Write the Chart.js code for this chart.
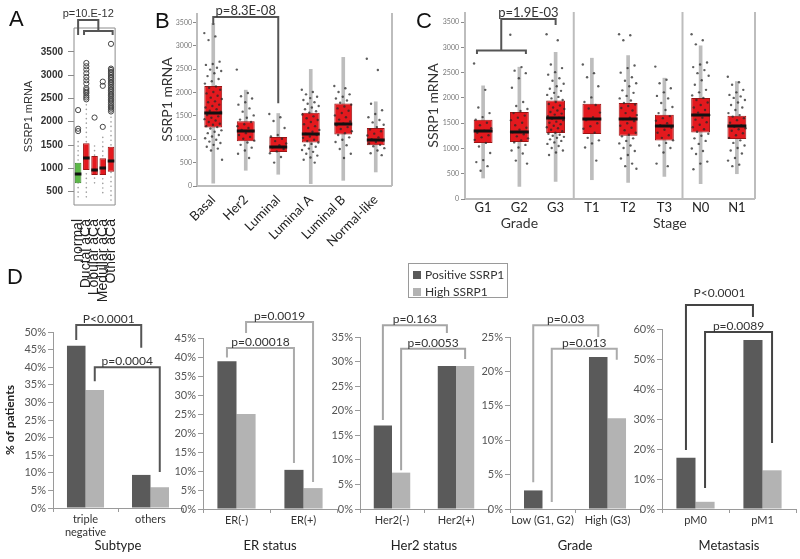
<!DOCTYPE html>
<html lang="en">
<head>
<meta charset="UTF-8">
<title>SSRP1 mRNA expression and SSRP1-positive patients</title>
<style>
  body { margin: 0; background: #fff; }
  #fig { position: relative; width: 800px; height: 559px; overflow: hidden; font-family: Arial, "Liberation Sans", sans-serif; }
  #fig canvas { position: absolute; }
  .tag { position: absolute; font-size: 22px; color: #111; line-height: 1; }
  #legend { position: absolute; left: 408px; top: 263px; width: 98px; height: 33px; border: 1.5px solid #9a9a9a; font: 12px Lato, sans-serif; color: #333; }
  #legend div { position: absolute; left: 4px; white-space: nowrap; }
  #legend span { display: inline-block; width: 8px; height: 8px; margin-right: 4px; vertical-align: 0; }
</style>
</head>
<body>
<div id="fig">
  <canvas id="chartA" width="135" height="310" style="left:0;top:0"></canvas>
  <canvas id="chartB" width="250" height="290" style="left:150px;top:0"></canvas>
  <canvas id="chartC" width="400" height="240" style="left:400px;top:0"></canvas>
  <canvas id="chartD1" width="190" height="279" style="left:0;top:280px"></canvas>
  <canvas id="chartD2" width="185" height="279" style="left:160px;top:280px"></canvas>
  <canvas id="chartD3" width="175" height="279" style="left:320px;top:280px"></canvas>
  <canvas id="chartD4" width="175" height="279" style="left:470px;top:280px"></canvas>
  <canvas id="chartD5" width="180" height="279" style="left:620px;top:280px"></canvas>
  <div class="tag" style="left:9px;top:8px">A</div>
  <div class="tag" style="left:155px;top:10px">B</div>
  <div class="tag" style="left:416px;top:10px">C</div>
  <div class="tag" style="left:7px;top:266px">D</div>
  <div id="legend"></div>
</div>

<script src="https://cdn.jsdelivr.net/npm/chart.js"></script>
<script>
// ---- A: histological type ----
const histTypes = ['normal', 'Ductal aCa', 'Lobular aCa', 'Medullar aCa', 'Other aCa'];
const histLow = [390, 390, 690, 480, 320];
const histQ1 = [680, 965, 858, 858, 929];
const histMed = [879, 1216, 965, 1001, 1164];
const histQ3 = [1121, 1537, 1265, 1216, 1464];
const histHigh = [1640, 2380, 1500, 1700, 2180];
const histOutliers = [
  [2250, 1850, 1800],
  [3260, 3190, 3120, 3040, 2960, 2890, 2820, 2720, 2680, 2640, 2610, 2560, 2520, 2480],
  [2090],
  [2860, 2770, 1890],
  [3670, 3140, 3110, 3070, 3040, 3000, 2960, 2930, 2890, 2850, 2820, 2780, 2740, 2700, 2670,
   2630, 2590, 2560, 2520, 2480, 2450, 2410, 2370, 2330, 2300, 2260, 2220]
];
const ticksA = [500, 1000, 1500, 2000, 2500, 3000, 3500];

// ---- B: molecular subtype ----
const subtypes = ['Basal', 'Her2', 'Luminal', 'Luminal A', 'Luminal B', 'Normal-like'];
const subLow = [60, 336, 251, 50, 121, 300];
const subQ1 = [1251, 958, 729, 929, 1100, 872];
const subMed = [1565, 1179, 836, 1122, 1336, 979];
const subQ3 = [2137, 1386, 1050, 1565, 1765, 1243];
const subHigh = [3480, 2050, 1551, 2494, 2751, 1801];
const subPoints = [
  [3270, 3200, 3120, 2660, 2610, 2590, 2530, 2490, 2460, 2410, 2350, 2290, 2240, 2190, 2130, 2100, 2060, 2010,
   1980, 1930, 1890, 1860, 1810, 1790, 1740, 1710, 1680, 1640, 1610, 1590, 1560, 1520, 1490, 1460, 1430, 1400,
   1370, 1330, 1310, 1280, 1260, 1230, 1190, 1160, 1130, 1090, 1060, 1020, 990, 950, 920, 880, 840, 800, 760, 560],
  [2490, 1990, 1920, 1870, 1790, 1740, 1660, 1590, 1510, 1460, 1420, 1370, 1320, 1280, 1240, 1200, 1170, 1130,
   1090, 1050, 1010, 970, 930, 880, 820, 760, 690, 600],
  [1540, 1470, 1390, 1240, 1090, 1060, 1010, 960, 910, 870, 830, 790, 740, 700, 620, 500],
  [2060, 2010, 1960, 1910, 1880, 1840, 1790, 1760, 1710, 1680, 1640, 1600, 1570, 1530, 1490, 1450, 1410, 1370,
   1320, 1280, 1240, 1200, 1160, 1120, 1090, 1060, 1030, 990, 960, 930, 900, 870, 840, 800, 770, 730, 690, 650, 610, 560, 500],
  [2140, 2090, 2010, 1960, 1910, 1870, 1830, 1780, 1740, 1700, 1660, 1610, 1560, 1510, 1470, 1420, 1380, 1340,
   1300, 1260, 1220, 1170, 1130, 1090, 1040, 990, 940, 870, 790, 690, 600],
  [2720, 2480, 1760, 1620, 1540, 1470, 1410, 1360, 1310, 1260, 1210, 1170, 1120, 1080, 1040, 1000, 970, 940,
   910, 880, 850, 810, 760, 700, 660]
];

// ---- C: grade and stage ----
const clinGroups = ['G1', 'G2', 'G3', 'T1', 'T2', 'T3', 'N0', 'N1'];
const clinLow = [415, 249, 348, 381, 328, 447, 302, 500];
const clinQ1 = [1107, 1126, 1304, 1284, 1251, 1158, 1316, 1186];
const clinMed = [1336, 1324, 1600, 1581, 1587, 1448, 1666, 1435];
const clinQ3 = [1567, 1719, 1949, 1883, 1897, 1666, 1996, 1646];
const clinHigh = [2239, 2608, 2900, 2786, 2838, 2391, 3029, 2324];
const clinPoints = [
  [2680, 2160, 1810, 1700, 1620, 1570, 1510, 1460, 1400, 1350, 1310, 1260, 1220, 1170, 1110, 1040, 910, 770, 730, 650, 560],
  [3250, 2610, 2540, 2490, 2390, 2200, 1920, 1840, 1780, 1740, 1700, 1650, 1610, 1560, 1510, 1460, 1410, 1370,
   1320, 1280, 1240, 1200, 1160, 1120, 1070, 1020, 960, 900, 760, 700],
  [3260, 3140, 2660, 2590, 2510, 2460, 2390, 2340, 2280, 2230, 2180, 2140, 2100, 2060, 2020, 1990, 1960, 1920,
   1880, 1850, 1810, 1780, 1750, 1720, 1690, 1670, 1640, 1610, 1590, 1560, 1530, 1510, 1480, 1450, 1420, 1400,
   1370, 1340, 1310, 1290, 1270, 1250, 1230, 1210, 1180, 1150, 1120, 1090, 1050, 1010, 960, 920, 870],
  [2660, 2490, 2410, 2230, 2010, 1920, 1860, 1790, 1710, 1620, 1560, 1500, 1440, 1390, 1310, 1210, 1160, 1100, 1020, 760],
  [3260, 3240, 3140, 2640, 2590, 2500, 2410, 2340, 2290, 2230, 2150, 2100, 2040, 1990, 1950, 1900, 1870, 1840,
   1800, 1750, 1700, 1660, 1610, 1580, 1540, 1500, 1450, 1410, 1360, 1310, 1270, 1240, 1200, 1150, 1100, 1060,
   1010, 950, 870, 800, 700, 650, 600],
  [2620, 2360, 2290, 2190, 2110, 2040, 1990, 1900, 1820, 1760, 1700, 1640, 1600, 1550, 1500, 1460, 1410, 1370,
   1310, 1260, 1210, 1160, 1110, 1060, 1010, 920, 700, 650],
  [3260, 3140, 3060, 2700, 2660, 2610, 2550, 2490, 2440, 2350, 2260, 2160, 2110, 2050, 2000, 1960, 1910, 1860,
   1810, 1760, 1710, 1660, 1610, 1570, 1520, 1470, 1420, 1380, 1330, 1290, 1250, 1200, 1150, 1090, 1000, 950, 890, 740, 700, 590],
  [2420, 2310, 2260, 2160, 2110, 2060, 2030, 2000, 1960, 1910, 1860, 1810, 1760, 1700, 1660, 1630, 1600, 1560,
   1510, 1460, 1430, 1400, 1380, 1350, 1300, 1260, 1210, 1160, 1110, 1060, 1010, 960, 900, 810, 760, 680, 650]
];
const ticksBC = [0, 500, 1000, 1500, 2000, 2500, 3000, 3500];

// ---- D: % of patients ----
const seriesNames = ['Positive SSRP1', 'High SSRP1'];
const subtypeCats = [['triple', 'negative'], 'others'];
const subtypePos = [46.1, 9.4];
const subtypeHigh = [33.5, 5.9];
const erCats = ['ER(-)', 'ER(+)'];
const erPos = [38.9, 10.3];
const erHigh = [25.0, 5.5];
const her2Cats = ['Her2(-)', 'Her2(+)'];
const her2Pos = [17.0, 29.1];
const her2High = [7.4, 29.1];
const gradeCats = ['Low (G1, G2)', 'High (G3)'];
const gradePos = [2.7, 22.1];
const gradeHigh = [0, 13.2];
const metaCats = ['pM0', 'pM1'];
const metaPos = [17.1, 56.3];
const metaHigh = [2.4, 12.9];

const DARK = '#5a5a5a', LIGHT = '#b3b3b3';
const RED = '#e3191e', RED_EDGE = '#9c1515';

Chart.defaults.font.family = 'Lato, "Open Sans", sans-serif';
Chart.defaults.color = '#444';
Chart.defaults.animation = false;
Chart.defaults.plugins.legend.display = false;
Chart.defaults.plugins.tooltip.enabled = false;

// spreads points sideways by a fixed golden-ratio pattern
const jitter = (i, w) => (((i * 0.6180339887) % 1) - 0.5) * w;

function medianPlugin(med) {
  return {
    id: 'medians',
    afterDatasetsDraw(chart) {
      const idx = chart.data.datasets.findIndex(d => d.label === 'box');
      const ys = chart.scales.y, ctx = chart.ctx;
      ctx.save();
      ctx.strokeStyle = '#111';
      ctx.lineWidth = 3;
      chart.getDatasetMeta(idx).data.forEach((bar, i) => {
        const py = Math.round(ys.getPixelForValue(med[i]));
        ctx.beginPath();
        ctx.moveTo(bar.x - bar.width / 2, py);
        ctx.lineTo(bar.x + bar.width / 2, py);
        ctx.stroke();
      });
      ctx.restore();
    }
  };
}

function dottedWhiskers(low, high) {
  return {
    id: 'dotted',
    beforeDatasetsDraw(chart) {
      const xs = chart.scales.x, ys = chart.scales.y, ctx = chart.ctx;
      ctx.save();
      ctx.strokeStyle = '#a0a0a0';
      ctx.lineWidth = 1.6;
      ctx.lineCap = 'round';
      ctx.setLineDash([0.1, 4.5]);
      low.forEach((lo, i) => {
        const x = xs.getPixelForValue(i);
        ctx.beginPath();
        ctx.moveTo(x, ys.getPixelForValue(lo));
        ctx.lineTo(x, ys.getPixelForValue(high[i]));
        ctx.stroke();
      });
      ctx.restore();
    }
  };
}

function framePlugin(sides, color, width, seps) {
  return {
    id: 'frame',
    beforeDatasetsDraw(chart) {
      const {left, right, top, bottom} = chart.chartArea, ctx = chart.ctx;
      ctx.save();
      ctx.strokeStyle = color;
      ctx.lineWidth = width;
      const line = (x1, y1, x2, y2) => { ctx.beginPath(); ctx.moveTo(x1, y1); ctx.lineTo(x2, y2); ctx.stroke(); };
      if (sides.includes('left')) line(left, top, left, bottom);
      if (sides.includes('right')) line(right, top, right, bottom);
      if (sides.includes('top')) line(left, top, right, top);
      if (sides.includes('bottom')) line(left, bottom, right, bottom);
      (seps || []).forEach(v => { const x = chart.scales.x.getPixelForValue(v); line(x, top, x, bottom); });
      ctx.restore();
    }
  };
}

function bracketPlugin(items, color, font) {
  return {
    id: 'brackets',
    afterDraw(chart) {
      const ctx = chart.ctx, ys = chart.scales.y;
      const xOf = v => Array.isArray(v) ? chart.getDatasetMeta(v[1]).data[v[0]].x : chart.scales.x.getPixelForValue(v);
      ctx.save();
      ctx.strokeStyle = color;
      ctx.lineWidth = 2;
      items.forEach(it => {
        const pts = it.pts.map(([x, y]) => [xOf(x), ys.getPixelForValue(y)]);
        ctx.beginPath();
        pts.forEach(([x, y], k) => k ? ctx.lineTo(x, y) : ctx.moveTo(x, y));
        ctx.stroke();
        if (it.text) {
          ctx.fillStyle = '#333';
          ctx.font = font;
          ctx.textAlign = 'center';
          ctx.textBaseline = 'middle';
          ctx.fillText(it.text, (pts[1][0] + pts[2][0]) / 2, pts[1][1] - it.dy);
        }
      });
      ctx.restore();
    }
  };
}

function groupLabels(labels) {
  return {
    id: 'groups',
    afterDraw(chart) {
      const ctx = chart.ctx;
      ctx.save();
      ctx.fillStyle = '#333';
      ctx.font = '14px Lato';
      ctx.textAlign = 'center';
      ctx.textBaseline = 'middle';
      labels.forEach(g => ctx.fillText(g.text, chart.scales.x.getPixelForValue(g.at), chart.chartArea.bottom + 24));
      ctx.restore();
    }
  };
}

function boxPanel(id, g) {
  const n = g.labels.length;
  const datasets = [];
  if (g.whiskers) {
    datasets.push({ label: 'whisker', data: g.low.map((v, i) => ({x: i, y: [v, g.high[i]]})), backgroundColor: '#bdbdbd',
      barThickness: 3, grouped: false, order: 4 });
  }
  datasets.push({ label: 'box', data: g.q1.map((v, i) => ({x: i, y: [v, g.q3[i]]})), backgroundColor: g.fills,
    borderColor: g.edges, borderWidth: 1, borderSkipped: false, grouped: false,
    barPercentage: g.boxPct, categoryPercentage: 1, order: 3 });
  if (g.points) {
    datasets.push({ type: 'scatter', label: 'points', order: 2,
      data: g.points.flatMap((arr, c) => arr.map((v, i) => ({x: c + jitter(i, g.spread), y: v}))),
      pointRadius: 1.2, pointBackgroundColor: 'rgba(40,40,40,0.75)', pointBorderWidth: 0 });
  }
  if (g.outliers) {
    datasets.push({ type: 'scatter', label: 'outliers', order: 1,
      data: g.outliers.flatMap((arr, c) => arr.map(v => ({x: c, y: v}))),
      pointRadius: 2.6, pointBackgroundColor: 'rgba(0,0,0,0)', pointBorderColor: '#444', pointBorderWidth: 1 });
  }
  const plugins = [framePlugin(g.frame, g.frameColor, g.frameWidth, g.seps), medianPlugin(g.med),
    bracketPlugin(g.brackets, '#555', g.pFont)];
  if (!g.whiskers) plugins.unshift(dottedWhiskers(g.low, g.high));
  if (g.groups) plugins.push(groupLabels(g.groups));
  return new Chart(document.getElementById(id), {
    type: 'bar',
    data: { datasets },
    options: {
      responsive: false,
      layout: { padding: { left: 0, top: g.padTop, right: g.padRight, bottom: 0 } },
      scales: {
        x: {
          type: 'linear', offset: false, min: -0.5, max: n - 0.5,
          afterBuildTicks: s => { s.ticks = g.labels.map((_, i) => ({value: i})); },
          grid: { display: false, offset: false },
          border: { display: false },
          ticks: { autoSkip: false, minRotation: g.rot, maxRotation: g.rot, padding: g.xPad, color: '#222', font: g.xFont,
            callback: v => g.labels[v] },
          afterFit: s => { s.height = g.xHeight; }
        },
        y: {
          min: g.yMin, max: g.yMax,
          afterBuildTicks: s => { s.ticks = g.ticks.map(v => ({value: v})); },
          grid: { drawOnChartArea: false, tickLength: g.tickLen, color: '#8a8a8a', lineWidth: 1 },
          border: { display: false },
          ticks: { padding: g.yPad, color: g.yColor, font: g.yFont, callback: v => String(v) },
          title: { display: true, text: 'SSRP1 mRNA', color: '#333', font: g.titleFont, padding: { top: g.titlePad, bottom: 0 } },
          afterFit: s => { s.width = g.yWidth; }
        }
      }
    },
    plugins
  });
}

boxPanel('chartA', {
  labels: histTypes, low: histLow, q1: histQ1, med: histMed, q3: histQ3, high: histHigh,
  outliers: histOutliers, whiskers: false,
  fills: ['#5cb947', RED, RED, RED, RED], edges: ['#3c8a2c', RED_EDGE, RED_EDGE, RED_EDGE, RED_EDGE],
  boxPct: 0.8, yMin: 215, yMax: 4010, ticks: ticksA,
  padTop: 28, padRight: 12, xHeight: 105, yWidth: 74, rot: 90, xPad: 6,
  xFont: { family: '"Liberation Sans", Arial', size: 14 },
  yFont: { family: '"Liberation Sans", Arial', size: 10, weight: 'bold' }, yColor: '#333', tickLen: 6, yPad: 5,
  titleFont: { family: '"Liberation Sans", Arial', size: 11 }, titlePad: 22,
  frame: ['left', 'right', 'top', 'bottom'], frameColor: '#8c8c8c', frameWidth: 1,
  pFont: '11px "Liberation Sans", Arial',
  brackets: [
    { pts: [[0, 3860], [0, 4180], [2.46, 4180], [2.46, 3944]], text: 'p=10.E-12', dy: 6 },
    { pts: [[0.72, 3858], [0.72, 3944], [4.2, 3944], [4.2, 3858]] }
  ]
});

boxPanel('chartB', {
  labels: subtypes, low: subLow, q1: subQ1, med: subMed, q3: subQ3, high: subHigh,
  points: subPoints, spread: 0.55, whiskers: true,
  fills: RED, edges: RED_EDGE, boxPct: 0.55, yMin: 0, yMax: 3700, ticks: ticksBC,
  padTop: 13, padRight: 8, xHeight: 104, yWidth: 47, rot: 45, xPad: -2,
  xFont: { size: 13 }, yFont: { size: 7 }, yColor: '#777', tickLen: 4, yPad: 1,
  titleFont: { size: 14 }, titlePad: 9,
  frame: ['left', 'right', 'bottom'], frameColor: '#bdbdbd', frameWidth: 2,
  pFont: '13px Lato',
  brackets: [{ pts: [[0, 3444], [0, 3615], [2, 3615], [2, 1772]], text: 'p=8.3E-08', dy: 6 }]
});

boxPanel('chartC', {
  labels: clinGroups, low: clinLow, q1: clinQ1, med: clinMed, q3: clinQ3, high: clinHigh,
  points: clinPoints, spread: 0.5, whiskers: true,
  fills: RED, edges: RED_EDGE, boxPct: 0.52, yMin: 0, yMax: 3700, ticks: ticksBC,
  padTop: 12, padRight: 45, xHeight: 41, yWidth: 65, rot: 0, xPad: -7,
  xFont: { size: 13 }, yFont: { size: 7 }, yColor: '#777', tickLen: 4, yPad: 2,
  titleFont: { size: 14 }, titlePad: 25,
  frame: ['left', 'right', 'bottom'], frameColor: '#bdbdbd', frameWidth: 2, seps: [2.5, 5.5],
  groups: [{ text: 'Grade', at: 1 }, { text: 'Stage', at: 5.15 }],
  pFont: '13px Lato',
  brackets: [
    { pts: [[-0.17, 2871], [-0.17, 2936], [1.18, 2936], [1.18, 2871]] },
    { pts: [[0.5, 2936], [0.5, 3563], [2, 3563], [2, 3444]], text: 'p=1.9E-03', dy: 6 }
  ]
});

function barPanel(id, cats, pos, high, g) {
  return new Chart(document.getElementById(id), {
    type: 'bar',
    data: {
      labels: cats,
      datasets: [
        { label: seriesNames[0], data: pos, backgroundColor: DARK },
        { label: seriesNames[1], data: high, backgroundColor: LIGHT }
      ]
    },
    options: {
      responsive: false,
      datasets: { bar: { barPercentage: 1, categoryPercentage: 0.57 } },
      layout: { padding: { left: 0, top: g.padTop, right: g.padRight, bottom: 0 } },
      scales: {
        x: {
          grid: { drawOnChartArea: false, tickLength: 4, color: '#9a9a9a', offset: true },
          border: { color: '#9a9a9a' },
          ticks: { padding: 1, color: '#333', font: { size: 11 }, autoSkip: false, minRotation: 0, maxRotation: 0 },
          title: { display: true, text: g.title, color: '#222', font: { size: 13 }, padding: { top: 0, bottom: 5 } },
          afterFit: s => { s.height = 279 - g.bottom; }
        },
        y: {
          min: 0, max: g.max,
          ticks: { stepSize: g.step, padding: 2, color: '#555', font: { size: 11 }, callback: v => v + '%' },
          grid: { drawOnChartArea: false, tickLength: 5, color: '#9a9a9a' },
          border: { color: '#9a9a9a' },
          title: g.yTitle ? { display: true, text: g.yTitle, color: '#222', font: { size: 12, weight: 'bold' }, padding: { top: 3, bottom: 0 } } : { display: false },
          afterFit: s => { s.width = g.yWidth; }
        }
      }
    },
    plugins: [bracketPlugin(g.brackets, g.bColor, '12px Lato')]
  });
}

barPanel('chartD1', subtypeCats, subtypePos, subtypeHigh, {
  title: 'Subtype', yTitle: '% of patients', max: 50, step: 5, padTop: 52, padRight: 7, yWidth: 53, bottom: 228,
  bColor: '#555',
  brackets: [
    { pts: [[[0, 0], 47.7], [[0, 0], 52], [[1, 0], 52], [[1, 0], 45.5]], text: 'P<0.0001', dy: 6 },
    { pts: [[[0, 1], 36], [[0, 1], 40], [[1, 1], 40], [[1, 1], 10.2]], text: 'p=0.0004', dy: 6 }
  ]
});
barPanel('chartD2', erCats, erPos, erHigh, {
  title: 'ER status', max: 45, step: 5, padTop: 58, padRight: 8, yWidth: 43, bottom: 229,
  bColor: '#ababab',
  brackets: [
    { pts: [[[0, 1], 46.3], [[0, 1], 49.2], [[1, 1], 49.2], [[1, 1], 7.1]], text: 'p=0.0019', dy: 6 },
    { pts: [[[0, 0], 39.9], [[0, 0], 42.4], [[1, 0], 42.4], [[1, 0], 12.1]], text: 'p=0.00018', dy: 6 }
  ]
});
barPanel('chartD3', her2Cats, her2Pos, her2High, {
  title: 'Her2 status', max: 35, step: 5, padTop: 57, padRight: 7, yWidth: 40, bottom: 229,
  bColor: '#a5a5a5',
  brackets: [
    { pts: [[[0, 0], 18.1], [[0, 0], 37.4], [[1, 0], 37.4], [[1, 0], 35.8]], text: 'p=0.163', dy: 6 },
    { pts: [[[0, 1], 7.9], [[0, 1], 32.6], [[1, 1], 32.6], [[1, 1], 30.5]], text: 'p=0.0053', dy: 6 }
  ]
});
barPanel('chartD4', gradeCats, gradePos, gradeHigh, {
  title: 'Grade', max: 25, step: 5, padTop: 57, padRight: 5, yWidth: 40, bottom: 229,
  bColor: '#ababab',
  brackets: [
    { pts: [[[0, 0], 3.9], [[0, 0], 26.7], [[1, 0], 26.7], [[1, 0], 25]], text: 'p=0.03', dy: 6 },
    { pts: [[[0, 1], 1.0], [[0, 1], 23.3], [[1, 1], 23.3], [[1, 1], 21.7]], text: 'p=0.013', dy: 6 }
  ]
});
barPanel('chartD5', metaCats, metaPos, metaHigh, {
  title: 'Metastasis', max: 60, step: 10, padTop: 49, padRight: 4, yWidth: 42, bottom: 229,
  bColor: '#444',
  brackets: [
    { pts: [[[0, 0], 19.7], [[0, 0], 68], [[1, 0], 68], [[1, 0], 64]], text: 'P<0.0001', dy: 12 },
    { pts: [[[0, 1], 7], [[0, 1], 59], [[1, 1], 59], [[1, 1], 22]], text: 'p=0.0089', dy: 6 }
  ]
});

// legend for panel D
document.getElementById('legend').innerHTML = seriesNames.map((name, i) =>
  `<div style="top:${i ? 20 : 3}px"><span style="background:${i ? LIGHT : DARK}"></span>${name}</div>`).join('');
</script>
</body>
</html>
